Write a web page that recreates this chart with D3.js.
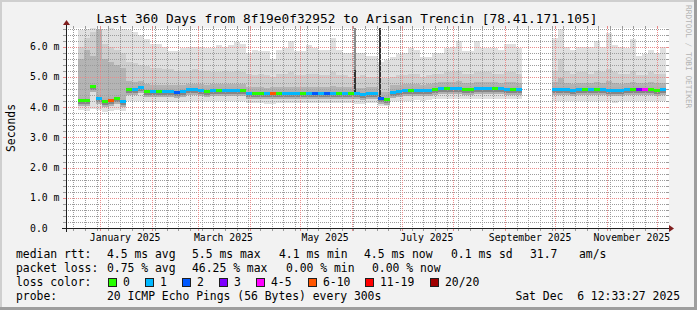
<!DOCTYPE html>
<html>
<head>
<meta charset="utf-8">
<script src="https://cdn.jsdelivr.net/npm/d3@7"></script>
<style>
  html, body { margin: 0; padding: 0; background: #f2f2f2; }
  svg { display: block; font-family: "DejaVu Sans Mono", monospace; }
</style>
</head>
<body>
<div id="chart"></div>
<script>
// 360 days ending Sat Dec 6 12:33:27 2025, one sample every 3.6 days (null = no data)
const stepDays = 3.6;

// median rtt, ms
const median = [
  null, null, 4.22, 4.20, 4.68, 4.27, 4.17, 4.20, 4.27, 4.18,
  4.58, 4.56, 4.62, 4.51, 4.49, 4.51, 4.51, 4.49, 4.48, 4.51,
  4.56, 4.56, 4.53, 4.51, 4.53, 4.53, 4.53, 4.53, 4.53, 4.52,
  4.44, 4.44, 4.44, 4.42, 4.42, 4.44, 4.44, 4.44, 4.44, 4.44,
  4.44, 4.43, 4.44, 4.44, 4.44, 4.44, 4.43, 4.44, 4.42, 4.41,
  4.44, 4.44, 4.26, 4.24, 4.48, 4.51, 4.52, 4.52, 4.52, 4.52,
  4.53, 4.57, 4.59, 4.59, 4.59, 4.59, 4.58, 4.58, 4.59, 4.59,
  4.59, 4.59, 4.59, 4.58, 4.58, 4.58, null, null, null, null,
  null, 4.56, 4.56, 4.56, 4.55, 4.56, 4.56, 4.56, 4.56, 4.56,
  4.55, 4.53, 4.55, 4.56, 4.56, 4.56, 4.56, 4.56, 4.55, 4.56
];

// lost pings out of 20
const lossPings = [
  null, null, 0, 0, 0, 1, 0, 6, 0, 1,
  0, 1, 1, 0, 1, 0, 1, 1, 2, 1,
  1, 1, 1, 0, 1, 0, 1, 1, 1, 0,
  1, 0, 0, 1, 6, 0, 1, 1, 1, 0,
  1, 2, 1, 2, 1, 0, 1, 0, 1, 1,
  1, 1, 2, 0, 1, 1, 1, 0, 1, 1,
  1, 0, 1, 0, 1, 1, 0, 0, 1, 1,
  1, 0, 1, 1, 0, 1, null, null, null, null,
  null, 1, 1, 1, 1, 1, 0, 1, 0, 1,
  1, 1, 1, 1, 0, 3, 4, 0, 0, 1
];

// smoke: slowest ping
const smokeMax = [
  null, null, 6.55, 6.60, 6.62, 6.50, 6.60, 6.62, 6.55, 6.60,
  6.55, 6.50, 6.40, 6.25, 6.10, 6.10, 6.00, 5.85, 5.85, 5.95,
  6.00, 6.00, 6.00, 5.95, 5.95, 6.05, 6.00, 6.05, 6.15, 6.10,
  5.80, 5.90, 5.85, 5.85, 5.60, 5.90, 5.95, 6.20, 5.85, 5.85,
  6.05, 5.95, 5.90, 5.90, 6.30, 5.90, 5.80, 5.78, 5.78, 5.78,
  5.70, 5.70, 5.50, 5.55, 5.67, 5.75, 5.80, 5.95, 5.90, 5.67,
  5.67, 5.78, 5.80, 5.95, 6.00, 6.20, 5.85, 5.85, 6.20, 5.95,
  5.95, 5.95, 5.90, 6.10, 6.10, 5.95, null, null, null, null,
  null, 6.30, 6.60, 6.00, 5.90, 6.00, 6.00, 6.00, 6.20, 6.00,
  6.45, 6.05, 6.00, 5.95, 6.25, 5.70, 5.75, 5.90, 5.80, 6.00
];

// smoke: upper ping band
const smokeUpper = [
  null, null, 6.00, 6.30, 6.50, 6.30, 6.10, 6.00, 5.90, 5.80,
  5.50, 5.45, 5.40, 5.35, 5.30, 5.30, 5.25, 5.25, 5.20, 5.20,
  5.20, 5.25, 5.20, 5.20, 5.15, 5.15, 5.20, 5.15, 5.20, 5.15,
  5.10, 5.05, 5.10, 5.05, 5.00, 5.10, 5.10, 5.15, 5.05, 5.05,
  5.10, 5.10, 5.05, 5.05, 5.15, 5.05, 5.05, 5.00, 5.00, 5.05,
  5.00, 5.00, 4.95, 4.95, 5.00, 5.05, 5.05, 5.10, 5.10, 5.00,
  5.05, 5.10, 5.10, 5.15, 5.15, 5.20, 5.10, 5.10, 5.15, 5.15,
  5.15, 5.10, 5.10, 5.15, 5.15, 5.10, null, null, null, null,
  null, 5.20, 5.60, 5.20, 5.10, 5.15, 5.15, 5.10, 5.20, 5.15,
  5.25, 5.15, 5.10, 5.10, 5.20, 5.05, 5.05, 5.15, 5.10, 5.10
];

// smoke: inner ping band
const smokeInner = [
  null, null, 5.60, 5.90, 5.70, 6.60, 5.60, 5.50, 5.40, 5.30,
  4.85, 4.82, 4.85, 4.75, 4.72, 4.74, 4.74, 4.72, 4.72, 4.74,
  4.78, 4.78, 4.76, 4.74, 4.76, 4.76, 4.76, 4.75, 4.77, 4.75,
  4.67, 4.67, 4.68, 4.65, 4.66, 4.68, 4.68, 4.68, 4.67, 4.67,
  4.68, 4.67, 4.67, 4.68, 4.70, 4.67, 4.66, 4.67, 4.65, 4.65,
  4.67, 4.66, 4.50, 4.50, 4.72, 4.74, 4.75, 4.76, 4.75, 4.74,
  4.76, 4.80, 4.82, 4.83, 4.82, 4.85, 4.81, 4.81, 4.83, 4.82,
  4.82, 4.82, 4.81, 4.82, 4.82, 4.81, null, null, null, null,
  null, 4.82, 4.95, 4.80, 4.78, 4.80, 4.80, 4.79, 4.82, 4.80,
  4.85, 4.80, 4.78, 4.79, 4.82, 4.80, 4.80, 4.82, 4.80, 4.80
];

// smoke: fastest ping
const smokeMin = [
  null, null, 3.90, 3.88, 3.95, 3.90, 3.85, 3.87, 3.90, 3.88,
  4.20, 4.22, 4.22, 4.18, 4.17, 4.18, 4.18, 4.17, 4.16, 4.18,
  4.22, 4.22, 4.20, 4.19, 4.20, 4.20, 4.20, 4.20, 4.20, 4.19,
  4.15, 4.14, 4.15, 4.12, 4.12, 4.14, 4.15, 4.15, 4.14, 4.14,
  4.14, 4.13, 4.14, 4.14, 4.14, 4.15, 4.13, 4.14, 4.12, 4.10,
  4.14, 4.14, 4.05, 4.05, 4.20, 4.22, 4.22, 4.22, 4.23, 4.22,
  4.23, 4.27, 4.28, 4.28, 4.28, 4.28, 4.27, 4.27, 4.28, 4.28,
  4.28, 4.28, 4.28, 4.27, 4.27, 4.27, null, null, null, null,
  null, 4.22, 4.22, 4.22, 4.20, 4.22, 4.22, 4.20, 4.22, 4.22,
  4.20, 4.15, 4.20, 4.22, 4.22, 4.20, 4.20, 4.20, 4.20, 4.22
];

// two short outliers (day offset from start, slowest ping, dark part top)
const spikeDays = [173.1, 188.4];
const spikeMax = [6.62, 6.62];
const spikeDark = [5.22, 6.62];

const yTicks = [0, 1, 2, 3, 4, 5, 6];
const yMinorTicks = [0.2, 0.4, 0.6, 0.8, 1.2, 1.4, 1.6, 1.8, 2.2, 2.4, 2.6, 2.8, 3.2, 3.4, 3.6, 3.8,
                     4.2, 4.4, 4.6, 4.8, 5.2, 5.4, 5.6, 5.8, 6.2, 6.4, 6.6];
const lossLabels = ["0", "1", "2", "3", "4-5", "6-10", "11-19", "20/20"];
const lossColors = ["#26ff00", "#00b8ff", "#0059ff", "#7e00ff", "#ff00ff", "#ff5500", "#ff0000", "#a10000"];

const startTime = new Date(Date.UTC(2024, 11, 11, 12, 33, 27));
const endTime = new Date(Date.UTC(2025, 11, 6, 12, 33, 27));
const dayMs = 864e5;
const tAt = d => new Date(+startTime + d * dayMs);

function lossColor(n) {
  if (n === 0) return lossColors[0];
  if (n === 1) return lossColors[1];
  if (n === 2) return lossColors[2];
  if (n === 3) return lossColors[3];
  if (n <= 5) return lossColors[4];
  if (n <= 10) return lossColors[5];
  if (n <= 19) return lossColors[6];
  return lossColors[7];
}

const W = 697, H = 310;
const X0 = 66, X1 = 666, Y0 = 228, Y1 = 28;

const svg = d3.select("#chart").append("svg")
    .attr("width", W)
    .attr("height", H);

// dotted grid patterns (1 px on, 1 px off)
const defs = svg.append("defs");
function dots(id, w, h, col) {
  const p = defs.append("pattern").attr("id", id).attr("patternUnits", "userSpaceOnUse")
      .attr("x", 0).attr("y", 0).attr("width", w).attr("height", h);
  p.append("rect").attr("width", 1).attr("height", 1).attr("fill", col);
}
const minorCol = "#9c9c9c", majorCol = "#e98b8b";
dots("vMinor", 1, 2, minorCol);
dots("hMinor", 2, 1, minorCol);
dots("vMajor", 1, 2, majorCol);
dots("hMajor", 2, 1, majorCol);

// background + 3d shade
svg.append("rect").attr("width", W).attr("height", H).attr("fill", "#f2f2f2");
svg.append("path").attr("d", `M0,0H${W}V2H2V${H}H0Z`).attr("fill", "#cfcfcf");
svg.append("path").attr("d", `M${W},${H}H0V${H - 3}H${W - 3}V0H${W}Z`).attr("fill", "#9e9e9e");

// canvas
svg.append("rect").attr("x", X0).attr("y", Y1).attr("width", X1 - X0 + 3).attr("height", Y0 - Y1).attr("fill", "#fff");

const x = d3.scaleUtc().domain([startTime, endTime]).range([X0, X1]);
const y = d3.scaleLinear().domain([0, 6.62]).range([Y0, Y1]);

const idx = d3.range(median.length).filter(i => median[i] != null);
const plot = svg.append("g").attr("shape-rendering", "crispEdges");

const xa = i => Math.round(x(tAt(i * stepDays)));
const xw = i => Math.round(x(tAt((i + 1) * stepDays))) - xa(i);

function band(top, bottom, color) {
  plot.append("g").selectAll("rect").data(idx).join("rect")
      .attr("x", xa)
      .attr("width", xw)
      .attr("y", i => y(top[i]))
      .attr("height", i => Math.max(0, y(bottom[i]) - y(top[i])))
      .attr("fill", color);
}

band(smokeMax, smokeMin, "#e0e0e0");
band(smokeUpper, median, "#cecece");
band(smokeInner, median, "#b4b4b4");

// dark core of the smoke around the median
function halo(above, below, color) {
  plot.append("g").selectAll("rect").data(idx).join("rect")
      .attr("x", xa)
      .attr("width", xw)
      .attr("y", i => Math.round(y(median[i])) - above)
      .attr("height", above + below)
      .attr("fill", color);
}
halo(4, 5, "#b0b0b0");
halo(2, 3, "#858585");

// outliers
spikeDays.forEach((d, k) => {
  const i = Math.floor(d / stepDays);
  const xs = Math.round(x(tAt(d)));
  plot.append("rect").attr("x", xs - 1).attr("width", 2)
      .attr("y", y(spikeMax[k])).attr("height", y(median[i]) - y(spikeMax[k]))
      .attr("fill", "#8a8a8a");
  plot.append("rect").attr("x", xs - 1).attr("width", 2)
      .attr("y", y(spikeDark[k])).attr("height", y(median[i]) - y(spikeDark[k]))
      .attr("fill", "#333");
});

// grid
const grid = svg.append("g").attr("shape-rendering", "crispEdges");
function vLine(t, pat, col) {
  const xx = Math.round(x(t));
  grid.append("rect").attr("x", xx).attr("y", Y1).attr("width", 1).attr("height", Y0 - Y1).attr("fill", `url(#${pat})`);
  grid.append("rect").attr("x", xx).attr("y", Y0).attr("width", 1).attr("height", 3).attr("fill", col);
  grid.append("rect").attr("x", xx).attr("y", Y1 - 2).attr("width", 1).attr("height", 2).attr("fill", col);
}
function hLine(v, pat, col) {
  const yy = Math.round(y(v));
  grid.append("rect").attr("x", X0).attr("y", yy).attr("width", X1 - X0).attr("height", 1).attr("fill", `url(#${pat})`);
  grid.append("rect").attr("x", X0 - 3).attr("y", yy).attr("width", 3).attr("height", 1).attr("fill", col);
  grid.append("rect").attr("x", X1).attr("y", yy).attr("width", 3).attr("height", 1).attr("fill", col);
}

const weekTicks = d3.utcMonday.range(startTime, endTime);
weekTicks.forEach(t => vLine(t, "vMinor", minorCol));
yMinorTicks.forEach(v => hLine(v, "hMinor", minorCol));
d3.utcMonth.range(startTime, endTime).forEach(t => vLine(t, "vMajor", majorCol));
yTicks.forEach(v => hLine(v, "hMajor", majorCol));

// median, coloured by loss
svg.append("g").attr("shape-rendering", "crispEdges").selectAll("rect").data(idx).join("rect")
    .attr("x", xa)
    .attr("width", xw)
    .attr("y", i => Math.round(y(median[i])) - 2)
    .attr("height", 3)
    .attr("fill", i => lossColor(lossPings[i]));

// axes
const axis = svg.append("g").attr("shape-rendering", "crispEdges");
axis.append("line").attr("x1", X0 - 4).attr("x2", X1 + 4).attr("y1", Y0 + 0.5).attr("y2", Y0 + 0.5).attr("stroke", "#1f1f1f");
axis.append("line").attr("x1", X0 + 0.5).attr("x2", X0 + 0.5).attr("y1", Y0 + 4).attr("y2", Y1 - 4).attr("stroke", "#1f1f1f");
svg.append("path").attr("d", `M${X1 + 3},${Y0 - 3}L${X1 + 8},${Y0 + 0.5}L${X1 + 3},${Y0 + 4}Z`).attr("fill", "#801f1f");
svg.append("path").attr("d", `M${X0 - 3},${Y1 - 3}L${X0 + 0.5},${Y1 - 8}L${X0 + 4},${Y1 - 3}Z`).attr("fill", "#801f1f");

// tick labels
const fmtMonth = d3.utcFormat("%B %Y");
d3.utcMonth.every(2).range(new Date(Date.UTC(2025, 0, 1)), endTime).forEach(m => {
  svg.append("text").attr("x", x(d3.utcDay.offset(m, 15))).attr("y", 241)
      .attr("text-anchor", "middle").attr("font-size", "9.8px").attr("fill", "#000")
      .text(fmtMonth(m));
});
yTicks.forEach(v => {
  svg.append("text").attr("x", 30).attr("y", y(v) + 3.5)
      .attr("font-size", "9.8px").attr("fill", "#000")
      .text(v === 0 ? "0.0" : v.toFixed(1) + " m");
});

// title, unit, watermark
svg.append("text").attr("x", 347).attr("y", 23).attr("text-anchor", "middle")
    .attr("font-size", "12.8px").attr("fill", "#000")
    .text("Last 360 Days from 8f19e0f32952 to Arisan Trencin [78.41.171.105]");
svg.append("text").attr("transform", "translate(14.5,128) rotate(-90)")
    .attr("text-anchor", "middle").attr("font-size", "11.4px").attr("fill", "#000")
    .text("Seconds");
svg.append("text").attr("transform", "translate(686,5) rotate(90)")
    .attr("font-size", "7.8px").attr("fill", "#b4b4b4")
    .text("RRDTOOL / TOBI OETIKER");

// legend
const legend = svg.append("g").attr("font-size", "11.4px").attr("fill", "#000");
function put(xx, yy, s, anchor) {
  legend.append("text").attr("x", xx).attr("y", yy).attr("xml:space", "preserve")
      .attr("text-anchor", anchor || "start").text(s);
}
put(16, 258, "median rtt:");
put(107, 258, "4.5 ms avg");
put(192, 258, "5.5 ms max");
put(279, 258, "4.1 ms min");
put(364, 258, "4.5 ms now");
put(451, 258, "0.1 ms sd");
put(530, 258, "31.7");
put(579, 258, "am/s");

put(16, 272, "packet loss:");
put(107, 272, "0.75 % avg");
put(192, 272, "46.25 % max");
put(286, 272, "0.00 % min");
put(372, 272, "0.00 % now");

put(16, 286, "loss color:");
const boxX = [108, 145, 182, 219, 256, 308, 365, 430];
lossLabels.forEach((l, k) => {
  legend.append("rect").attr("x", boxX[k] + 0.5).attr("y", 278.5).attr("width", 8).attr("height", 8)
      .attr("fill", lossColors[k]).attr("stroke", "#1f1f1f").attr("shape-rendering", "crispEdges");
  put(boxX[k] + 15, 286, l);
});

put(16, 300, "probe:");
put(107, 300, "20 ICMP Echo Pings (56 Bytes) every 300s");
put(680, 300, "Sat Dec  6 12:33:27 2025", "end");
</script>
</body>
</html>
